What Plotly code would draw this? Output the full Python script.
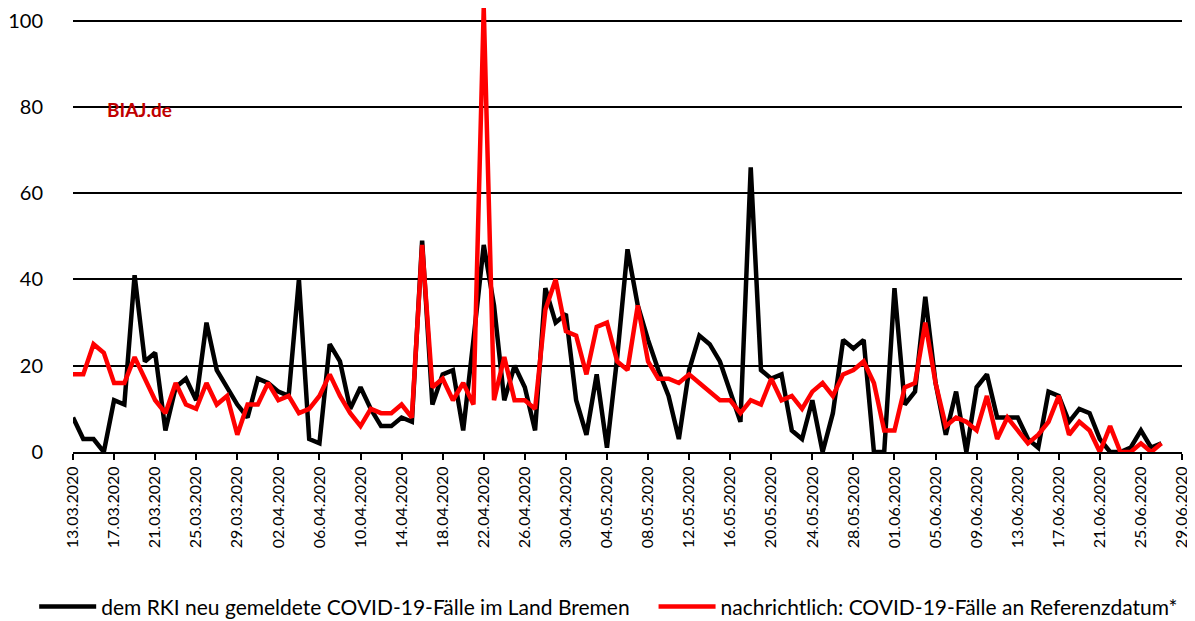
import pandas as pd
import plotly.graph_objects as go

start_date = "2020-03-13"
axis_end = "2020-06-29"

# dem RKI neu gemeldete COVID-19-Fälle im Land Bremen (13.03. - 27.06.2020)
rki_cases = [
    8, 3, 3, 0, 12, 11, 41, 21, 23, 5, 15, 17, 12, 30, 19, 15, 11, 8,
    17, 16, 14, 13, 40, 3, 2, 25, 21, 10, 15, 10, 6, 6, 8, 7, 49,
    11, 18, 19, 5, 26, 48, 34, 12, 20, 15, 5, 38, 30, 32, 12, 4, 18, 1,
    22, 47, 34, 26, 19, 13, 3, 19, 27, 25, 21, 14, 7, 66, 19, 17, 18, 5,
    3, 12, 0, 9, 26, 24, 26, 0, 0, 38, 11, 14, 36, 16, 4, 14, 0,
    15, 18, 8, 8, 8, 3, 1, 14, 13, 7, 10, 9, 3, 0, 0, 1, 5, 1, 2,
]

# nachrichtlich: COVID-19-Fälle an Referenzdatum*
ref_cases = [
    18, 18, 25, 23, 16, 16, 22, 17, 12, 9, 16, 11, 10, 16, 11, 13, 4, 11,
    11, 16, 12, 13, 9, 10, 13, 18, 13, 9, 6, 10, 9, 9, 11, 8, 48,
    15, 17, 12, 16, 11, 103, 12, 22, 12, 12, 10, 33, 40, 28, 27, 18, 29, 30,
    21, 19, 34, 21, 17, 17, 16, 18, 16, 14, 12, 12, 9, 12, 11, 17, 12, 13,
    10, 14, 16, 13, 18, 19, 21, 16, 5, 5, 15, 16, 30, 16, 6, 8, 7,
    5, 13, 3, 8, 5, 2, 4, 7, 13, 4, 7, 5, 0, 6, 0, 0, 2, 0, 2,
]

series_names = [
    "dem RKI neu gemeldete COVID-19-Fälle im Land Bremen",
    "nachrichtlich: COVID-19-Fälle an Referenzdatum*",
]
y_ticks = [0, 20, 40, 60, 80, 100]

dates = pd.date_range(start_date, periods=len(rki_cases), freq="D")

fig = go.Figure()
fig.add_trace(go.Scatter(
    x=dates, y=rki_cases, mode="lines", name=series_names[0],
    line=dict(color="#000000", width=4.5), legend="legend",
))
fig.add_trace(go.Scatter(
    x=dates, y=ref_cases, mode="lines", name=series_names[1],
    line=dict(color="#FF0000", width=4.5), legend="legend2",
))

font_family = "Lato, 'Open Sans', sans-serif"
legend_style = dict(
    orientation="h", xanchor="left", y=-0.349, yanchor="middle",
    font=dict(size=21, color="#000000", family=font_family),
    itemwidth=57, bgcolor="rgba(0,0,0,0)",
)

fig.update_layout(
    width=1187, height=613,
    margin=dict(l=65, r=13, t=0, b=169, autoexpand=False),
    paper_bgcolor="white", plot_bgcolor="white",
    font=dict(family=font_family, color="#000000"),
    showlegend=True,
    legend=dict(x=-0.035, **legend_style),
    legend2=dict(x=0.5235, **legend_style),
    xaxis=dict(
        type="date",
        range=[start_date, axis_end],
        tick0=start_date, dtick=4 * 86400000,
        tickformat="%d.%m.%Y", tickangle=-90,
        tickfont=dict(size=16, color="#000000"),
        showgrid=False, zeroline=False, automargin=False,
        showline=True, linecolor="#000000", linewidth=2,
        ticks="outside", ticklen=6, tickwidth=1.5, tickcolor="#000000",
        ticklabeloverflow="allow",
    ),
    yaxis=dict(
        range=[0, 102.95],
        tickvals=y_ticks,
        tickfont=dict(size=20, color="#000000"),
        showgrid=True, gridcolor="#000000", gridwidth=2,
        zeroline=False, showline=False, ticks="", automargin=False,
        ticklabelstandoff=29, ticklabeloverflow="allow",
    ),
    annotations=[dict(
        text="<b>BIAJ.de</b>", x=0.029, xref="paper", y=79.5, yref="y",
        xanchor="left", yanchor="middle", showarrow=False,
        font=dict(size=19, color="#C00000", family=font_family),
    )],
)

fig.write_html("out.html")
